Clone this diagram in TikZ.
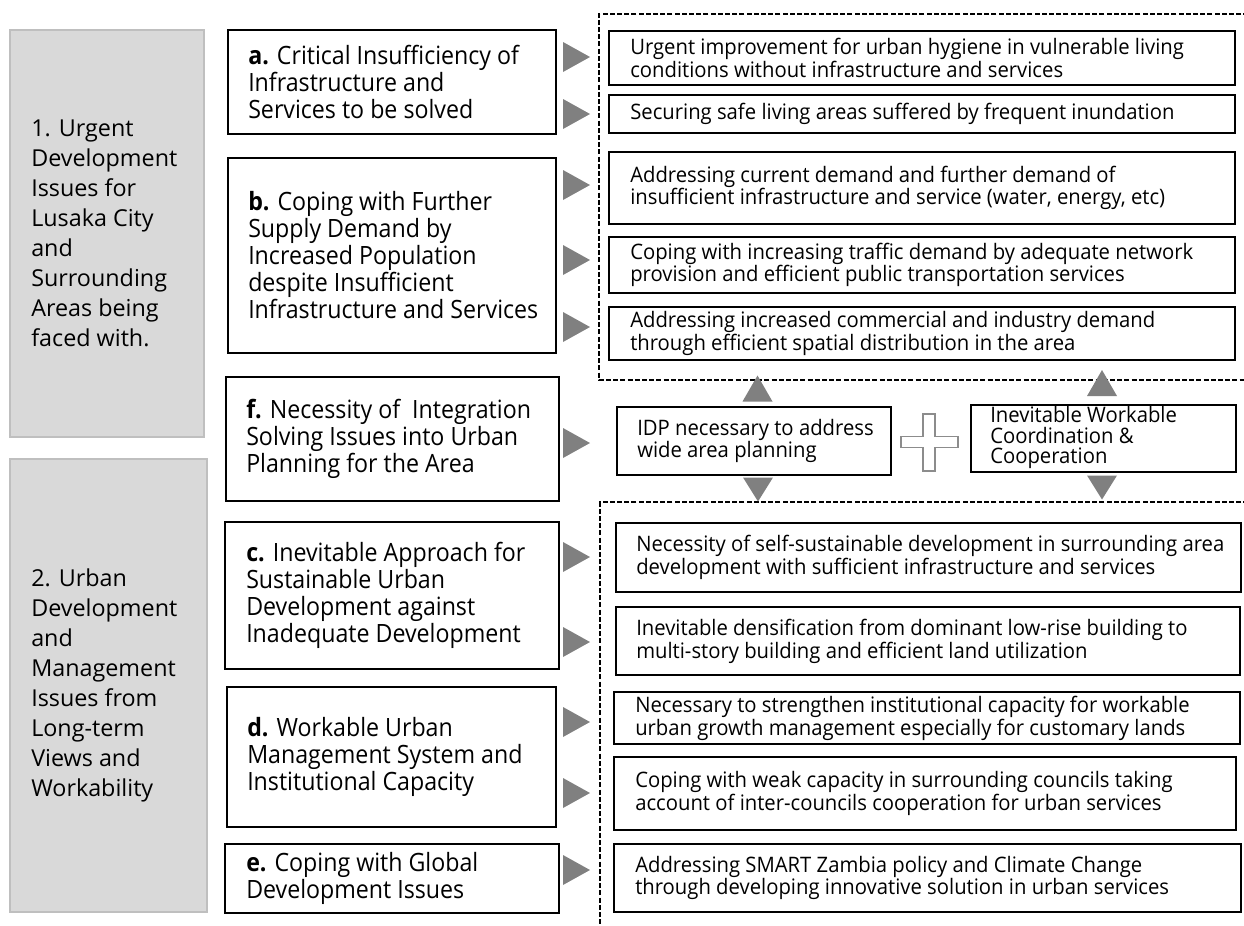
\documentclass[tikz,border=0pt]{standalone}
\usepackage{fontspec}
\setmainfont{Open Sans}
\newfontfamily\mainboxfont{Open Sans}[FakeStretch=0.92]
\newfontfamily\sideboxfont{Open Sans}[FakeStretch=0.95]
\usetikzlibrary{calc}

\definecolor{panelgrey}{HTML}{D9D9D9}
\definecolor{panelrule}{HTML}{BFBFBF}
\definecolor{tipgrey}{HTML}{808080}
\definecolor{plusgrey}{HTML}{8C8C8C}

\tikzset{
  % outlined box of a given width and height (in px units), placed by its top-left corner
  boxshape/.style 2 args={draw=black, line width=1.8pt, anchor=north west, inner sep=0pt,
    outer sep=0pt, minimum width={#1*0.75pt}, minimum height={#2*0.75pt}},
  panel/.style 2 args={boxshape={#1}{#2}, fill=panelgrey, draw=panelrule, line width=0.9pt},
  paneltext/.style={anchor=west, align=left, inner sep=0pt, font=\fontsize{17.5pt}{22.5pt}\selectfont},
  maintext/.style={anchor=west, align=left, inner sep=0pt, font=\mainboxfont\fontsize{18.9pt}{20.25pt}\selectfont},
  sidetext/.style={anchor=west, align=left, inner sep=0pt, font=\sideboxfont\fontsize{16pt}{15.4pt}\selectfont},
  dashframe/.style={draw=black, line width=1.3pt, dash pattern=on 3.8pt off 1.6pt},
  tip/.style={fill=tipgrey},
  pics/rtip/.style={code={\fill[tip] (0,-15) -- (27,0) -- (0,15) -- cycle;}},
  pics/utip/.style={code={\fill[tip] (-15,13) -- (0,-13) -- (15,13) -- cycle;}},
  pics/dtip/.style={code={\fill[tip] (-15,-12) -- (0,12) -- (15,-12) -- cycle;}},
}

\begin{document}
\begin{tikzpicture}[x=0.75pt, y=-0.75pt]
\useasboundingbox (0,0) rectangle (1244,925);
\clip (0,0) rectangle (1244,925);

% grey side panels
\node[panel={194}{407}] (g1) at (10,30) {};
\node[paneltext] (g1t) at ($(g1.west)+(21,0)$) {1. Urgent\\Development\\Issues for\\Lusaka City\\and\\Surrounding\\Areas being\\faced with.};
\node[panel={197}{453}] (g2) at (10,459) {};
\node[paneltext] (g2t) at ($(g2.west)+(21,0)$) {2. Urban\\Development\\and\\Management\\Issues from\\Long-term\\Views and\\Workability};

% issue boxes
\node[boxshape={328}{104}] (a) at (228,30) {};
\node[maintext] (at) at ($(a.west)+(20,0)$) {\textbf{a.} Critical Insufficiency of\\Infrastructure and\\Services to be solved};
\node[boxshape={328}{195}] (b) at (228,158) {};
\node[maintext] (bt) at ($(b.west)+(20,0)$) {\textbf{b.} Coping with Further\\Supply Demand by\\Increased Population\\despite Insufficient\\Infrastructure and Services};
\node[boxshape={333}{124}] (f) at (226,377) {};
\node[maintext] (ft) at ($(f.west)+(20,0)$) {\textbf{f.} Necessity of\ \ Integration\\Solving Issues into Urban\\Planning for the Area};
\node[boxshape={334}{147}] (c) at (225,522) {};
\node[maintext] (ct) at ($(c.west)+(21,0)$) {\textbf{c.} Inevitable Approach for\\Sustainable Urban\\Development against\\Inadequate Development};
\node[boxshape={329}{140}] (d) at (227,687) {};
\node[maintext] (dt) at ($(d.west)+(20,0)$) {\textbf{d.} Workable Urban\\Management System and\\Institutional Capacity};
\node[boxshape={334}{69}] (e) at (225,844) {};
\node[maintext] (et) at ($(e.west)+(21,0)$) {\textbf{e.} Coping with Global\\Development Issues};

% dashed groupings
\draw[dashframe] (1270,14) -- (599,14) -- (599,380) -- (1270,380);
\draw[dashframe] (1270,502) -- (600,502) -- (600,940);

% upper measures
\node[boxshape={626}{54}] (r1) at (609,31) {};
\node[sidetext] (r1t) at ($(r1.west)+(21,0)$) {Urgent improvement for urban hygiene in vulnerable living\\conditions without infrastructure and services};
\node[boxshape={626}{38}] (r2) at (609,95) {};
\node[sidetext] (r2t) at ($(r2.west)+(21,0)$) {Securing safe living areas suffered by frequent inundation};
\node[boxshape={626}{72}] (r3) at (609,152) {};
\node[sidetext] (r3t) at ($(r3.west)+(21,0)$) {Addressing current demand and further demand of\\insufficient infrastructure and service (water, energy, etc)};
\node[boxshape={626}{56}] (r4) at (609,237) {};
\node[sidetext] (r4t) at ($(r4.west)+(21,0)$) {Coping with increasing traffic demand by adequate network\\provision and efficient public transportation services};
\node[boxshape={626}{53}] (r5) at (609,307) {};
\node[sidetext] (r5t) at ($(r5.west)+(21,0)$) {Addressing increased commercial and industry demand\\through efficient spatial distribution in the area};

% integration row
\node[boxshape={274}{68}] (idp) at (617,407) {};
\node[sidetext] (idpt) at ($(idp.west)+(20,0)$) {IDP necessary to address\\wide area planning};
\node[boxshape={265}{67}] (coop) at (971,405) {};
\node[sidetext] (coopt) at ($(coop.west)+(19,-1)$) {Inevitable Workable\\Coordination \&\\Cooperation};
\draw[draw=plusgrey, fill=white, line width=1.1pt]
  (923,414) -- (935,414) -- (935,436.5) -- (958,436.5) -- (958,447.5) -- (935,447.5)
  -- (935,471) -- (923,471) -- (923,447.5) -- (901,447.5) -- (901,436.5) -- (923,436.5) -- cycle;

% lower measures
\node[boxshape={625}{69}] (r6) at (616,523) {};
\node[sidetext] (r6t) at ($(r6.west)+(20,0)$) {Necessity of self-sustainable development in surrounding area\\development with sufficient infrastructure and services};
\node[boxshape={624}{68}] (r7) at (616,607) {};
\node[sidetext] (r7t) at ($(r7.west)+(20,0)$) {Inevitable densification from dominant low-rise building to\\multi-story building and efficient land utilization};
\node[boxshape={626}{52}] (r8) at (614,692) {};
\node[sidetext] (r8t) at ($(r8.west)+(21,0)$) {Necessary to strengthen institutional capacity for workable\\urban growth management especially for customary lands};
\node[boxshape={622}{73}] (r9) at (614,757) {};
\node[sidetext] (r9t) at ($(r9.west)+(21,0)$) {Coping with weak capacity in surrounding councils taking\\account of inter-councils cooperation for urban services};
\node[boxshape={627}{68}] (r10) at (614,844) {};
\node[sidetext] (r10t) at ($(r10.west)+(21,0)$) {Addressing SMART Zambia policy and Climate Change\\through developing innovative solution in urban services};

% pointers
\foreach \yy in {57,114,185,260,327,443,557,642,722,793,870}
  \pic at (563,\yy) {rtip};
\pic at (757.5,388.5) {utip};
\pic at (1102,383) {utip};
\pic at (758,489.5) {dtip};
\pic at (1102,487.5) {dtip};
\end{tikzpicture}
\end{document}
